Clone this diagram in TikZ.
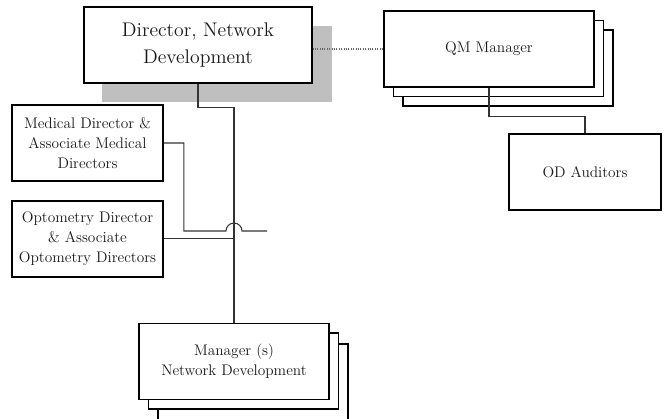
\documentclass[tikz,border=0pt]{standalone}
\usepackage{tikz}
\usetikzlibrary{positioning}

\begin{document}
\begin{tikzpicture}[
    x=0.75pt, y=-0.75pt,
    every node/.style={font=\fontsize{11.5}{15}\selectfont, text=black!90},
    box/.style={draw=black, fill=white, rectangle, line width=1.4pt, minimum width=#1, minimum height=57pt, inner sep=0pt, align=center},
    shade/.style={fill=black!25, rectangle, minimum width=#1, minimum height=57pt, inner sep=0pt},
    link/.style={line width=0.8pt, color=black!80},
    aside/.style={densely dotted, line width=0.8pt, color=black!60}
]
\useasboundingbox (0,0) rectangle (664,418);
\clip (0,0) rectangle (664,418);

\node (dirshade) [shade=172.5pt] at (217,64) {};
\node (dir) [box=171pt, font=\fontsize{14.8}{20.5}\selectfont] at (198,45) {Director, Network\\Development};

\node (qm3) [box=157.5pt] at (508,68) {};
\node (qm2) [box=157.5pt] at (498.5,58.5) {};
\node (qm) [box=157.5pt] at (489,49) {QM Manager};
\node (od) [box=114pt] at (585,172) {OD Auditors};

\node (med) [box=113.25pt] at (87.5,143) {Medical Director \&\\Associate Medical\\Directors};
\node (opt) [box=113.25pt, below=13.5pt of med] {Optometry Director\\\& Associate\\Optometry Directors};

\node (mgr3) [box=142.5pt] at (253,382) {};
\node (mgr2) [box=142.5pt] at (243.5,371) {};
\node (mgr) [box=142.5pt] at (234,361.5) {Manager (s)\\Network Development};

\coordinate (medend) at (267,231);

\draw [aside] (qm.west) -- (qm.west -| dir.east);
\draw [link] (dir.south) -- ++(0,24) -| (mgr.north);
\draw [link] (qm.south) -- ++(0,29) -| (od.north);
\draw [link] (med.east) -- ++(20,0) |- ([xshift=-6pt]mgr.north |- medend) arc[start angle=180, end angle=0, radius=6pt] -- (medend);
\draw [link] (opt.east) -- (opt.east -| mgr.north);

\end{tikzpicture}
\end{document}
